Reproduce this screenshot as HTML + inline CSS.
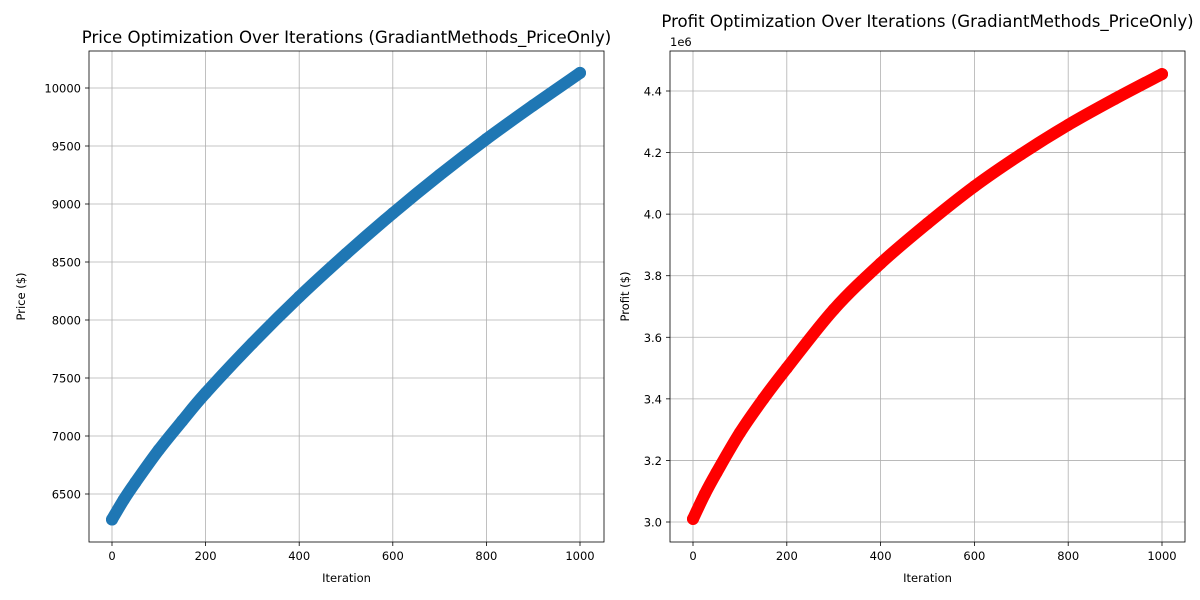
<!DOCTYPE html>
<html><head><meta charset="utf-8"><style>
body{margin:0;background:#fff}
svg{display:block;font-family:"DejaVu Sans","Liberation Sans",sans-serif}
</style></head><body>
<svg id="c" width="1200" height="600" viewBox="0 0 1200 600"></svg>
<script>
const iterations = [0, 25, 50, 100, 150, 200, 300, 400, 500, 600, 700, 800, 900, 1000];
const priceValues = [6280, 6450, 6600, 6880, 7130, 7370, 7800, 8200, 8570, 8920, 9250, 9560, 9850, 10130];
const profitValues = [3.01, 3.09, 3.16, 3.29, 3.40, 3.50, 3.69, 3.84, 3.97, 4.09, 4.195, 4.29, 4.375, 4.455];
const xTicks = [0, 200, 400, 600, 800, 1000];
const priceTicks = [6500, 7000, 7500, 8000, 8500, 9000, 9500, 10000];
const profitTicks = [3.0, 3.2, 3.4, 3.6, 3.8, 4.0, 4.2, 4.4];

const NS = "http://www.w3.org/2000/svg";
const svg = document.getElementById('c');
function mk(tag, attrs, parent, text){
  const e = document.createElementNS(NS, tag);
  for (const k in attrs) e.setAttribute(k, attrs[k]);
  if (text !== undefined) e.textContent = text;
  (parent || svg).appendChild(e);
  return e;
}
function smoothPath(p){
  let d = 'M' + p[0][0] + ',' + p[0][1];
  for (let i = 0; i < p.length - 1; i++){
    const p0 = p[Math.max(0, i - 1)], p1 = p[i], p2 = p[i + 1], p3 = p[Math.min(p.length - 1, i + 2)];
    const c1x = p1[0] + (p2[0] - p0[0]) / 6, c1y = p1[1] + (p2[1] - p0[1]) / 6;
    const c2x = p2[0] - (p3[0] - p1[0]) / 6, c2y = p2[1] - (p3[1] - p1[1]) / 6;
    d += ' C' + c1x + ',' + c1y + ' ' + c2x + ',' + c2y + ' ' + p2[0] + ',' + p2[1];
  }
  return d;
}
function panel(o){
  const g = mk('g', {});
  
  
  const xs = v => o.x0 + (v - 0) / 1000 * (o.x1000 - o.x0);
  const ys = v => o.ya + (v - o.va) / (o.vb - o.va) * (o.yb - o.ya);
  xTicks.forEach(t => {
    const l = mk('line', {x1: xs(t), x2: xs(t), y1: o.top, y2: o.bot, stroke: '#b0b0b0', 'stroke-width': 0.8}, g);
    
    
    mk('line', {x1: xs(t), x2: xs(t), y1: o.bot, y2: o.bot + 4, stroke: '#000', 'stroke-width': 0.8}, g);
    const tx = mk('text', {x: xs(t), y: o.bot + 18, 'font-size': 11.5, 'text-anchor': 'middle'}, g, String(t));
    
    
  });
  o.ticks.forEach(t => {
    const l = mk('line', {x1: o.left, x2: o.right, y1: ys(t), y2: ys(t), stroke: '#b0b0b0', 'stroke-width': 0.8}, g);
    
    
    mk('line', {x1: o.left - 4, x2: o.left, y1: ys(t), y2: ys(t), stroke: '#000', 'stroke-width': 0.8}, g);
    const tx = mk('text', {x: o.left - 8, y: ys(t) + 4.5, 'font-size': 11.5, 'text-anchor': 'end'}, g, o.fmt(t));
    
    
  });
  const pts = iterations.map((it, i) => [xs(it), ys(o.vals[i])]);
  const line = mk('path', {d: smoothPath(pts), fill: 'none', stroke: o.color, 'stroke-width': 12, 'stroke-linecap': 'round', 'stroke-linejoin': 'round'}, g);
  
  
  iterations.forEach((it, i) => {
    const c = mk('circle', {cx: xs(it), cy: ys(o.vals[i]), r: 6, fill: o.color}, g);
    
    
  });
  const f = mk('rect', {x: o.left, y: o.top, width: o.right - o.left, height: o.bot - o.top, fill: 'none', stroke: '#000', 'stroke-width': 0.8}, g);
  
  
  const t = mk('text', {x: (o.left + o.right) / 2, y: o.titleY, 'font-size': 16.6, 'text-anchor': 'middle'}, g, o.title);
  
  
  const xl = mk('text', {x: (o.left + o.right) / 2, y: o.bot + 40, 'font-size': 11.5, 'text-anchor': 'middle'}, g, 'Iteration');
  
  
  const yl = mk('text', {x: o.ylx, y: (o.top + o.bot) / 2, 'font-size': 11.5, 'text-anchor': 'middle', transform: 'rotate(-90 ' + o.ylx + ' ' + (o.top + o.bot) / 2 + ')'}, g, o.ylabel);
  
  
  return g;
}
panel({name: 'price-chart', left: 89, right: 604, top: 51, bot: 542, x0: 112, x1000: 580, titleY: 43,
  va: 10000, ya: 88, vb: 6500, yb: 494, ticks: priceTicks, vals: priceValues, color: '#1f77b4',
  fmt: t => String(t), title: 'Price Optimization Over Iterations (GradiantMethods_PriceOnly)', ylabel: 'Price ($)', ylx: 25});
panel({name: 'profit-chart', left: 670, right: 1185, top: 51, bot: 542, x0: 693, x1000: 1162, titleY: 27,
  va: 4.4, ya: 91, vb: 3.0, yb: 522, ticks: profitTicks, vals: profitValues, color: '#ff0000',
  fmt: t => t.toFixed(1), title: 'Profit Optimization Over Iterations (GradiantMethods_PriceOnly)', ylabel: 'Profit ($)', ylx: 629});
const e = mk('text', {x: 670, y: 46, 'font-size': 11.5}, svg, '1e6');


</script>
</body></html>
